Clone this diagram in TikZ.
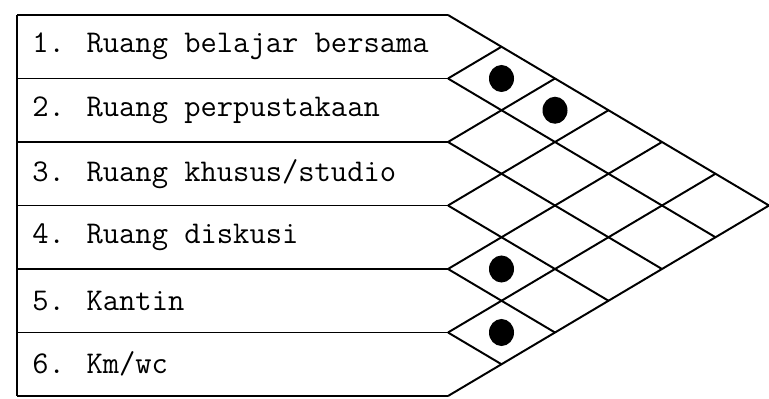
\documentclass[tikz,border=0pt]{standalone}
\usepackage{fontspec}
\usetikzlibrary{shapes.geometric}

\begin{document}
\begin{tikzpicture}[
  x=0.025cm, y=-0.025cm,
  rowlabel/.style={anchor=west,inner sep=0pt,font=\fontsize{22.5}{24}\selectfont\ttfamily},
  rule/.style={line width=1.4pt},
  hit/.style={ellipse,fill=black,inner sep=0pt,minimum width=6.25mm,minimum height=6.75mm}
]
  \useasboundingbox (0,0) rectangle (769,399);
  % row lines: left ends and right ends
  \foreach \i in {0,...,6}{
    \coordinate (a\i) at (17,{15+63.5*\i});
    \coordinate (b\i) at (448,{15+63.5*\i});
  }
  \coordinate (tip) at (769,205.5);

  % label column
  \foreach \i in {0,...,6}
    \draw[rule] (a\i) -- (b\i);
  \draw[rule] (a0) -- (a6);
  \node[rowlabel] (r1) at (32,46.75) {1. Ruang belajar bersama};
  \node[rowlabel] (r2) at (32,110.25) {2. Ruang perpustakaan};
  \node[rowlabel] (r3) at (32,173.75) {3. Ruang khusus/studio};
  \node[rowlabel] (r4) at (32,237.25) {4. Ruang diskusi};
  \node[rowlabel] (r5) at (32,300.75) {5. Kantin};
  \node[rowlabel] (r6) at (32,364.25) {6. Km/wc};

  % matrix
  \draw[rule] (b0) -- (tip) -- (b6);
  \foreach \i in {1,...,5}{
    \draw[rule] (b\i) -- ++({(6-\i)*53.5},{(6-\i)*31.75});
    \draw[rule] (b\i) -- ++({\i*53.5},{-\i*31.75});
  }

  % relations
  \node[hit] (h12) at (501.5,78.5) {};
  \node[hit] (h13) at (555,110.25) {};
  \node[hit] (h45) at (501.5,269) {};
  \node[hit] (h56) at (501.5,332.5) {};
\end{tikzpicture}
\end{document}
